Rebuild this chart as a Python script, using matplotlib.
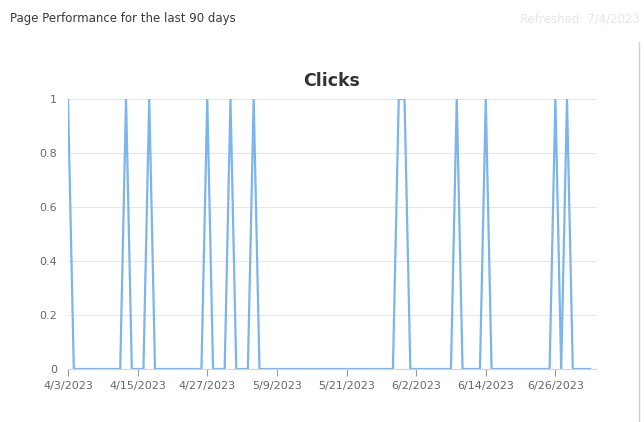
import datetime as dt

import matplotlib

matplotlib.use("Agg")

import matplotlib.dates as mdates
import matplotlib.pyplot as plt
import numpy as np

start = dt.date(2023, 4, 3)
num_days = 91
spike_days = [0, 10, 14, 24, 28, 32, 57, 58, 67, 72, 84, 86]
tick_labels = ["4/3/2023", "4/15/2023", "4/27/2023", "5/9/2023", "5/21/2023",
               "6/2/2023", "6/14/2023", "6/26/2023"]
y_labels = ["0", "0.2", "0.4", "0.6", "0.8", "1"]

dates = [start + dt.timedelta(days=i) for i in range(num_days)]
clicks = np.zeros(num_days)
clicks[spike_days] = 1

fig = plt.figure(figsize=(6.44, 4.22), dpi=100)
fig.text(0.016, 0.955, "Page Performance for the last 90 days", fontsize=8.5,
         color="#333842", va="center")
fig.text(0.993, 0.955, "Refreshed: 7/4/2023", fontsize=8.5, color="#e4e6ea",
         va="center", ha="right")
fig.add_artist(plt.Line2D([0.993, 0.993], [0.0, 0.9], color="#cfcfcf", lw=1))

ax = fig.add_axes([68 / 644, 1 - 369 / 422, (596 - 68) / 644, (369 - 99) / 422])
ax.plot(dates, clicks, color="#7cb5ec", lw=1.6)
ax.set_title("Clicks", fontsize=12.5, fontweight="bold", color="#333333", pad=9)

ax.set_xlim(mdates.date2num(start), mdates.date2num(start + dt.timedelta(days=91)))
ax.set_ylim(0, 1)
tick_dates = [start + dt.timedelta(days=12 * i) for i in range(len(tick_labels))]
ax.set_xticks(mdates.date2num(tick_dates))
ax.set_xticklabels(tick_labels)
ax.set_yticks(np.linspace(0, 1, len(y_labels)))
ax.set_yticklabels(y_labels)
ax.tick_params(axis="x", colors="#666666", labelsize=8, length=5, color="#999999")
ax.tick_params(axis="y", colors="#666666", labelsize=8, length=0, pad=8)
ax.grid(axis="y", color="#e6e6e6", lw=0.8)
ax.set_axisbelow(True)
for side in ["top", "right", "left"]:
    ax.spines[side].set_visible(False)
ax.spines["bottom"].set_color("#ccd6eb")

fig.savefig("out.png")
